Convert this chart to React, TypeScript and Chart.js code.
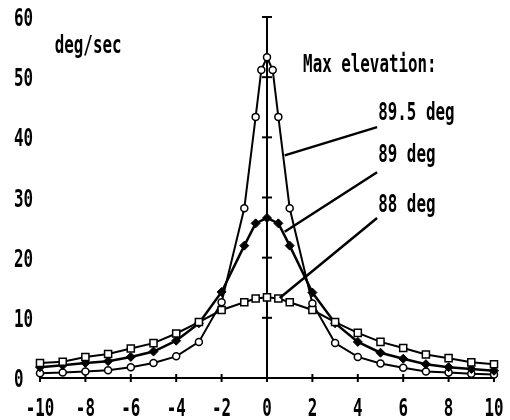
import React, { useEffect, useRef } from "react";
import { Chart, registerables } from "chart.js";

Chart.register(...registerables);

// ---- data ----
const X_88 = [-10, -9, -8, -7, -6, -5, -4, -3, -2, -1, -0.5, 0, 0.5, 1, 2, 3, 4, 5, 6, 7, 8, 9, 10];
const Y_88 = [2.5, 2.7, 3.5, 4.0, 4.9, 5.8, 7.4, 9.3, 11.3, 12.6, 13.2, 13.4, 13.2, 12.6, 11.3, 9.3, 7.5, 6.0, 5.0, 3.9, 3.3, 2.6, 2.3];

const X_89 = [-10, -9, -8, -7, -6, -5, -4, -3, -2, -1, -0.5, 0, 0.5, 1, 2, 3, 4, 5, 6, 7, 8, 9, 10];
const Y_89 = [1.8, 2.1, 2.5, 2.8, 3.5, 4.4, 6.2, 9.1, 14.3, 22.0, 25.7, 26.6, 25.7, 22.0, 14.2, 9.1, 6.0, 4.2, 3.2, 2.3, 1.8, 1.5, 1.2];

const X_895 = [-10, -9, -8, -7, -6, -5, -4, -3, -2, -1, -0.5, -0.25, 0, 0.25, 0.5, 1, 2, 3, 4, 5, 6, 7, 8, 9, 10];
const Y_895 = [0.8, 0.9, 1.1, 1.3, 1.8, 2.5, 3.6, 6.0, 12.6, 28.2, 43.4, 51.2, 53.3, 51.2, 43.4, 28.2, 12.4, 5.8, 3.5, 2.4, 1.7, 1.1, 0.9, 0.7, 0.6];

const X_TICKS = [-10, -8, -6, -4, -2, 0, 2, 4, 6, 8, 10];
const Y_TICKS = [0, 10, 20, 30, 40, 50, 60];
const X_TICK_LABELS = ["-10", "-8", "-6", "-4", "-2", "0", "2", "4", "6", "8", "10"];
const Y_TICK_LABELS = ["0", "10", "20", "30", "40", "50", "60"];

const UNIT_LABEL = "deg/sec";
const TITLE_LABEL = "Max elevation:";
const SERIES_LABELS = ["89.5 deg", "89 deg", "88 deg"];
// label anchor (x, y) in data units and leader line start/end in data units
const LABEL_POS = [
  [4.9, 42.9],
  [4.9, 35.9],
  [4.9, 27.6],
];
const LEADER_START = [
  [0.78, 37.0],
  [0.78, 24.3],
  [0.56, 13.3],
];
const LEADER_END = [
  [4.85, 41.7],
  [4.85, 34.2],
  [4.85, 26.6],
];
const TITLE_POS = [1.59, 50.8];
const UNIT_POS = [-9.35, 54.0];

const toPts = (xs: number[], ys: number[]) => xs.map((x, i) => ({ x, y: ys[i] }));

const FONT = 'bold 24px "DejaVu Sans Mono"';
const SX = 0.66;

function stretchText(ctx: CanvasRenderingContext2D, text: string, px: number, py: number, align: "left" | "center" | "right") {
  ctx.save();
  ctx.font = FONT;
  ctx.textBaseline = "alphabetic";
  ctx.textAlign = "left";
  const w = ctx.measureText(text).width * SX;
  let x0 = px;
  if (align === "center") x0 = px - w / 2;
  if (align === "right") x0 = px - w;
  ctx.translate(x0, py);
  ctx.scale(SX, 1);
  ctx.fillStyle = "#000";
  ctx.fillText(text, 0, 0);
  ctx.restore();
}

const decor = {
  id: "decor",
  beforeDatasetsDraw(chart: any) {
    const { ctx, scales } = chart;
    const xs = scales.x;
    const ys = scales.y;
    ctx.save();
    ctx.strokeStyle = "#000";
    ctx.lineWidth = 2;
    const y0 = ys.getPixelForValue(0);
    const x0 = xs.getPixelForValue(0);
    ctx.beginPath();
    ctx.moveTo(xs.getPixelForValue(X_TICKS[0]), y0);
    ctx.lineTo(xs.getPixelForValue(X_TICKS[X_TICKS.length - 1]), y0);
    ctx.stroke();
    X_TICKS.forEach((t) => {
      const p = xs.getPixelForValue(t);
      ctx.beginPath();
      ctx.moveTo(p, y0 - 4);
      ctx.lineTo(p, y0 + 4);
      ctx.stroke();
    });
    ctx.beginPath();
    ctx.moveTo(x0, y0);
    ctx.lineTo(x0, ys.getPixelForValue(Y_TICKS[Y_TICKS.length - 1]));
    ctx.stroke();
    Y_TICKS.slice(1).forEach((t) => {
      const p = ys.getPixelForValue(t);
      ctx.beginPath();
      ctx.moveTo(x0 - 5, p);
      ctx.lineTo(x0 + 5, p);
      ctx.stroke();
    });
    ctx.restore();
  },
  afterDatasetsDraw(chart: any) {
    const { ctx, scales, chartArea } = chart;
    const xs = scales.x;
    const ys = scales.y;
    X_TICKS.forEach((t, i) => {
      stretchText(ctx, X_TICK_LABELS[i], xs.getPixelForValue(t), ys.getPixelForValue(0) + 38, "center");
    });
    Y_TICKS.forEach((t, i) => {
      stretchText(ctx, Y_TICK_LABELS[i], chartArea.left - 26, ys.getPixelForValue(t) + 9, "left");
    });
    stretchText(ctx, UNIT_LABEL, xs.getPixelForValue(UNIT_POS[0]), ys.getPixelForValue(UNIT_POS[1]), "left");
    stretchText(ctx, TITLE_LABEL, xs.getPixelForValue(TITLE_POS[0]), ys.getPixelForValue(TITLE_POS[1]), "left");
    SERIES_LABELS.forEach((s, i) => {
      stretchText(ctx, s, xs.getPixelForValue(LABEL_POS[i][0]), ys.getPixelForValue(LABEL_POS[i][1]), "left");
    });
    ctx.save();
    ctx.strokeStyle = "#000";
    ctx.lineWidth = 2.5;
    LEADER_START.forEach((s, i) => {
      ctx.beginPath();
      ctx.moveTo(xs.getPixelForValue(s[0]), ys.getPixelForValue(s[1]));
      ctx.lineTo(xs.getPixelForValue(LEADER_END[i][0]), ys.getPixelForValue(LEADER_END[i][1]));
      ctx.stroke();
    });
    ctx.restore();
  },
};

export default function App() {
  const ref = useRef<HTMLCanvasElement | null>(null);
  useEffect(() => {
    if (!ref.current) return;
    const chart = new Chart(ref.current, {
      type: "line",
      data: {
        datasets: [
          {
            label: SERIES_LABELS[2],
            data: toPts(X_88, Y_88),
            borderColor: "#000",
            borderWidth: 2,
            pointStyle: "rect",
            pointRadius: 5,
            pointBorderWidth: 1.5,
            pointBackgroundColor: "#fff",
            pointBorderColor: "#000",
            clip: false,
          },
          {
            label: SERIES_LABELS[1],
            data: toPts(X_89, Y_89),
            borderColor: "#000",
            borderWidth: 2.5,
            pointStyle: "rectRot",
            pointRadius: 4.5,
            pointBorderWidth: 1,
            pointBackgroundColor: "#000",
            pointBorderColor: "#000",
            clip: false,
          },
          {
            label: SERIES_LABELS[0],
            data: toPts(X_895, Y_895),
            borderColor: "#000",
            borderWidth: 2,
            pointStyle: "circle",
            pointRadius: 3.5,
            pointBorderWidth: 1.5,
            pointBackgroundColor: "#fff",
            pointBorderColor: "#000",
            clip: false,
          },
        ],
      },
      options: {
        responsive: false,
        animation: false,
        devicePixelRatio: 1,
        layout: { padding: { left: 40, right: 16, top: 17, bottom: 42 } },
        elements: { line: { tension: 0 } },
        scales: {
          x: { type: "linear", min: -10, max: 10, display: false },
          y: { type: "linear", min: 0, max: 60, display: false },
        },
        plugins: { legend: { display: false }, tooltip: { enabled: false } },
      },
      plugins: [decor],
    } as any);
    return () => chart.destroy();
  }, []);
  return (
    <div style={{ position: "absolute", left: 0, top: 0, width: 510, height: 420, background: "#fff" }}>
      <canvas ref={ref} width={510} height={420} />
    </div>
  );
}
